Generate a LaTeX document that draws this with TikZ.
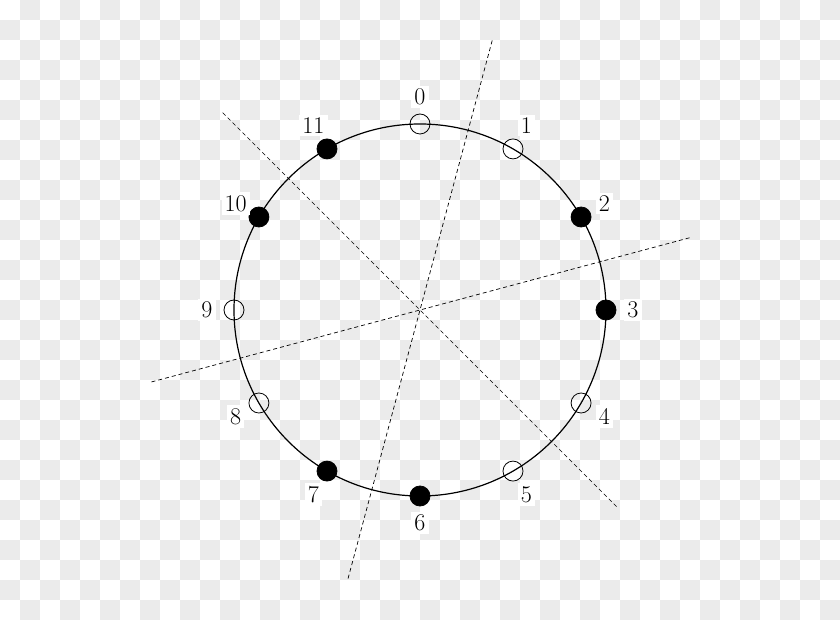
\documentclass[tikz,border=0pt]{standalone}
\usepackage{fontspec}
\usepackage{tikz}
\usetikzlibrary{calc}
\definecolor{checkgray}{RGB}{235,235,235}
\newcommand{\numfont}{\fontsize{24}{28}\selectfont}

\begin{document}
\begin{tikzpicture}[x=1pt,y=1pt,
  markpt/.style={circle,draw,line width=0.8pt,minimum size=20pt,inner sep=0pt},
  fullpt/.style={markpt,fill=black},
  emptypt/.style={markpt},
  numlabel/.style={fill=white,inner sep=3pt},
  symaxis/.style={dash pattern=on 4pt off 3pt,line width=0.7pt}]

  % checkered backdrop
  \useasboundingbox (-420,-310) rectangle (420,310);
  \fill[white] (-420,-310) rectangle (420,310);
  \foreach \i in {0,...,41} {
    \foreach \j in {0,...,30} {
      \pgfmathtruncatemacro\odd{mod(\i+\j,2)}
      \ifnum\odd=1
        \fill[checkgray] (20*\i-420,310-20*\j) rectangle (20*\i-400,290-20*\j);
      \fi
    }
  }

  \coordinate (c) at (0,0);

  % symmetry axes
  \foreach \a/\n in {15/a,75/b,135/c} {
    \coordinate (s\n1) at (\a:279);
    \coordinate (s\n2) at (\a+180:279);
    \draw[symaxis] (s\n1) -- (s\n2);
  }

  \draw[line width=1.2pt] (c) circle (186);

  \foreach \k/\s in {0/emptypt,1/emptypt,2/fullpt,3/fullpt,4/emptypt,5/emptypt,
                     6/fullpt,7/fullpt,8/emptypt,9/emptypt,10/fullpt,11/fullpt} {
    \node[\s] (p\k) at ({90-30*\k}:186) {};
    \node[numlabel] (l\k) at ({90-30*\k}:213) {\numfont\k};
  }

\end{tikzpicture}
\end{document}
